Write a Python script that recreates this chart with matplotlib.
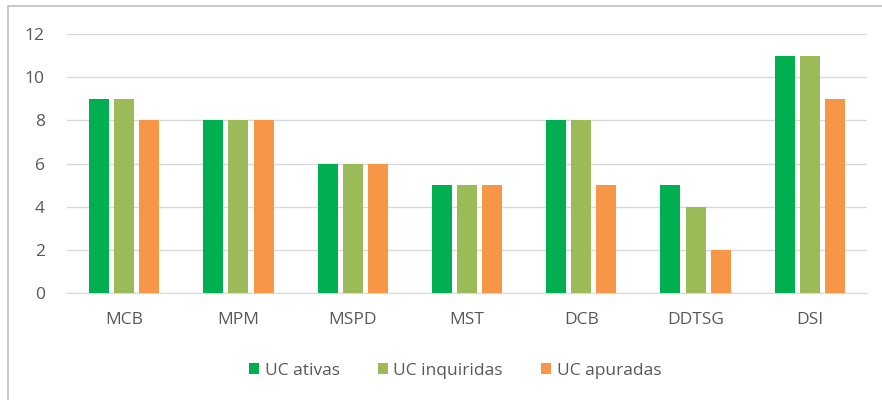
import numpy as np
import matplotlib.pyplot as plt
from matplotlib.patches import Rectangle

categories = ['MCB', 'MPM', 'MSPD', 'MST', 'DCB', 'DDTSG', 'DSI']
uc_ativas = [9, 8, 6, 5, 8, 5, 11]
uc_inquiridas = [9, 8, 6, 5, 8, 4, 11]
uc_apuradas = [8, 8, 6, 5, 5, 2, 9]
series_names = ['UC ativas', 'UC inquiridas', 'UC apuradas']
colors = ['#00B050', '#9BBB59', '#F79646']

plt.rcParams['font.family'] = ['Open Sans', 'DejaVu Sans']

fig = plt.figure(figsize=(8.82, 4.0), dpi=100)
ax = fig.add_axes([0.076, 0.2675, 0.907, 0.6475])

x = np.arange(len(categories))
step = 0.22
width = 0.175
for i, (vals, name, c) in enumerate(zip([uc_ativas, uc_inquiridas, uc_apuradas], series_names, colors)):
    ax.bar(x + (i - 1) * step, vals, width, color=c, label=name, zorder=3)

ax.set_xlim(-0.5, len(categories) - 0.5)
ax.set_ylim(0, 12)
ax.set_yticks(range(0, 13, 2))
ax.set_xticks(x)
ax.set_xticklabels(categories)
ax.grid(axis='y', color='#D9D9D9', linewidth=1, zorder=0)
for s in ['top', 'right', 'left']:
    ax.spines[s].set_visible(False)
ax.spines['bottom'].set_color('#D9D9D9')
ax.tick_params(axis='both', length=0, colors='#595959', labelsize=12.5)
ax.tick_params(axis='y', pad=16)
ax.tick_params(axis='x', pad=14)

ax.legend(loc='center', bbox_to_anchor=(0.485, -0.3), ncol=3, frameon=False,
          fontsize=12.5, handlelength=0.6, handleheight=0.6, handletextpad=0.3,
          columnspacing=2.2, labelcolor='#595959')

# chart border
fig.patches.append(Rectangle((8 / 882, -0.1), 1.2, 1 - 5.5 / 400 + 0.1,
                             transform=fig.transFigure, fill=False,
                             edgecolor='#BFBFBF', linewidth=1.2))

fig.savefig('out.png', dpi=100)
